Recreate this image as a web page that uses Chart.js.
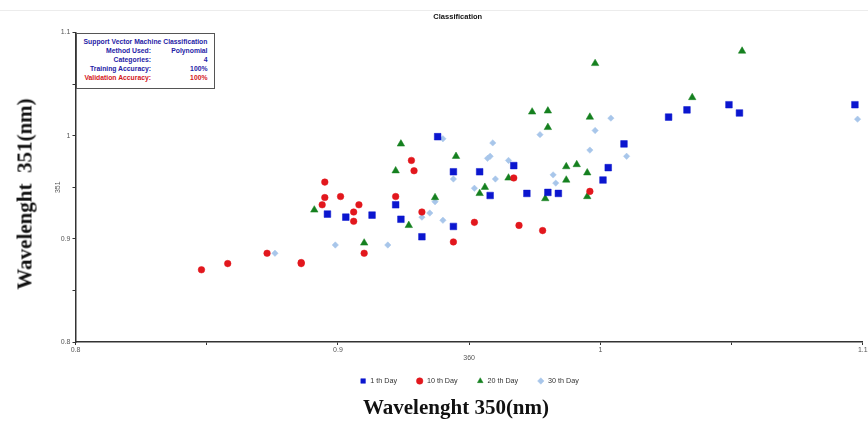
<!DOCTYPE html>
<html>
<head>
<meta charset="utf-8">
<script src="https://cdn.jsdelivr.net/npm/chart.js@4"></script>
<style>
  html, body { margin: 0; padding: 0; background: #fff; }
  #wrap { position: relative; width: 868px; height: 424px; overflow: hidden; background: #fff; }
  #c { position: absolute; left: 0; top: 0; }
  .topline { position: absolute; left: 0; top: 10px; width: 868px; height: 1px; background: #ececec; }
  .big { position: absolute; font-family: "Liberation Serif", "Times New Roman", serif; font-weight: bold; font-size: 21px; color: #111; white-space: pre; line-height: 1; }
  #ytitle { left: 25px; top: 194px; transform: translate(-50%, -50%) rotate(-90deg); }
  #xtitle { left: 456px; top: 407px; transform: translate(-50%, -50%); }
  #info { position: absolute; left: 76px; top: 33px; width: 137px; height: 54px; border: 1px solid #555; background: #fff;
          font-family: Arial, "Liberation Sans", sans-serif; font-weight: bold; font-size: 6.8px; color: #1f22a6; }
  #info .ln { position: absolute; white-space: nowrap; line-height: 1; }
  #info .red { color: #d4161c; }
</style>
</head>
<body>
<div id="wrap">
  <div class="topline"></div>
  <canvas id="c" width="868" height="424"></canvas>
  <div id="info"></div>
  <div id="ytitle" class="big">Wavelenght  351(nm)</div>
  <div id="xtitle" class="big">Wavelenght 350(nm)</div>
</div>
<script>
// ---- data ----
const seriesNames = ['1 th Day', '10 th Day', '20 th Day', '30 th Day'];

const day1X  = [0.896,0.903,0.913,0.922,0.924,0.932,0.938,0.944,0.954,0.967,0.958,0.972,0.980,0.984,1.009,1.003,1.001,0.944,1.026,1.033,1.049,1.053,1.097];
const day1Y  = [0.924,0.921,0.923,0.933,0.919,0.902,0.999,0.965,0.965,0.971,0.942,0.944,0.945,0.944,0.992,0.969,0.957,0.912,1.018,1.025,1.030,1.022,1.030];

const day10X = [0.848,0.858,0.873,0.886,0.886,0.895,0.895,0.894,0.901,0.908,0.906,0.906,0.910,0.928,0.929,0.922,0.932,0.967,0.952,0.969,0.978,0.944,0.996];
const day10Y = [0.870,0.876,0.886,0.877,0.876,0.955,0.940,0.933,0.941,0.933,0.926,0.917,0.886,0.976,0.966,0.941,0.926,0.959,0.916,0.913,0.908,0.897,0.946];

const day20X = [0.924,0.922,0.891,0.910,0.927,0.937,0.974,0.980,0.980,0.996,0.945,0.965,0.956,0.954,0.979,0.987,0.991,0.995,0.987,0.995,1.054,1.035,0.998];
const day20Y = [0.992,0.966,0.928,0.896,0.913,0.940,1.023,1.024,1.008,1.018,0.980,0.959,0.950,0.944,0.939,0.970,0.972,0.964,0.957,0.941,1.082,1.037,1.070];

const day30X = [0.876,0.899,0.919,0.932,0.935,0.937,0.940,0.959,0.957,0.958,0.965,0.944,0.960,0.952,0.940,0.977,0.998,1.004,0.996,0.982,0.983,1.010,1.098];
const day30Y = [0.886,0.894,0.894,0.921,0.925,0.936,0.997,0.993,0.978,0.980,0.976,0.958,0.958,0.949,0.918,1.001,1.005,1.017,0.986,0.962,0.954,0.980,1.016];

const axisMin = 0.8, axisMax = 1.1, axisStep = 0.05;
const labeledTicks = [0.8, 0.9, 1.0, 1.1];

const chartTitle = 'Classification';
const xAxisTitle = '360';
const yAxisTitle = '351';

const infoTitle = 'Support Vector Machine Classification';
const infoLabels = ['Method Used:', 'Categories:', 'Training Accuracy:', 'Validation Accuracy:'];
const infoValues = ['Polynomial', '4', '100%', '100%'];

// ---- info box ----
(function () {
  const box = document.getElementById('info');
  const rowsY = [8.7, 17.7, 26.3, 35, 44];
  let t = document.createElement('div');
  t.className = 'ln'; t.textContent = infoTitle;
  t.style.left = '0px'; t.style.width = '137px'; t.style.textAlign = 'center';
  t.style.top = (rowsY[0] - 3.4) + 'px';
  box.appendChild(t);
  infoLabels.forEach((lab, i) => {
    const red = i === 3 ? ' red' : '';
    const a = document.createElement('div');
    a.className = 'ln' + red; a.textContent = lab;
    a.style.right = (137 - 74) + 'px'; a.style.top = (rowsY[i + 1] - 3.4) + 'px';
    box.appendChild(a);
    const b = document.createElement('div');
    b.className = 'ln' + red; b.textContent = infoValues[i];
    b.style.right = (137 - 130.5) + 'px'; b.style.top = (rowsY[i + 1] - 3.4) + 'px';
    box.appendChild(b);
  });
})();

// ---- chart ----
const zip = (xs, ys) => xs.map((x, i) => ({ x: x, y: ys[i] }));

const styles = [
  { pointStyle: 'rect',     radius: 4.7, color: '#0b16cf' },
  { pointStyle: 'circle',   radius: 3.3, color: '#e2171d' },
  { pointStyle: 'triangle', radius: 4.3, color: '#15801f' },
  { pointStyle: 'rectRot',  radius: 3.2, color: '#a8c6ea' }
];
const xsAll = [day1X, day10X, day20X, day30X];
const ysAll = [day1Y, day10Y, day20Y, day30Y];

const datasets = seriesNames.map((name, i) => ({
  label: name,
  data: zip(xsAll[i], ysAll[i]),
  pointStyle: styles[i].pointStyle,
  pointRadius: styles[i].radius,
  pointHoverRadius: styles[i].radius,
  backgroundColor: styles[i].color,
  borderColor: styles[i].color,
  pointBorderWidth: 0.5,
  borderWidth: 0.5
}));

function tickLabel(v) {
  const r = Math.round(v * 100) / 100;
  const hit = labeledTicks.some(t => Math.abs(t - r) < 1e-6);
  if (!hit) return '';
  return String(r);
}

const tickFont = { family: 'Arial, "Liberation Sans", sans-serif', size: 7 };

new Chart(document.getElementById('c'), {
  type: 'scatter',
  data: { datasets: datasets },
  options: {
    responsive: false,
    animation: false,
    events: [],
    layout: { padding: { left: 49.5, right: 2, top: 0, bottom: 29.4 } },
    plugins: {
      tooltip: { enabled: false },
      title: {
        display: true, text: chartTitle, color: '#111',
        font: { family: 'Arial, "Liberation Sans", sans-serif', size: 7.5, weight: 'bold' },
        padding: { top: 12.3, bottom: 11.2 }
      },
      legend: {
        position: 'bottom', fullSize: false,
        labels: {
          usePointStyle: true, boxHeight: 4.6, padding: 19, color: '#333',
          font: { family: 'Arial, "Liberation Sans", sans-serif', size: 7.2 }
        }
      }
    },
    scales: {
      x: {
        type: 'linear', min: axisMin, max: axisMax,
        ticks: { stepSize: axisStep, autoSkip: false, maxRotation: 0, padding: 1, color: '#555', font: tickFont, callback: tickLabel },
        grid: { drawOnChartArea: false, drawTicks: true, tickLength: 3, color: '#333', lineWidth: 1 },
        border: { display: true, color: '#333', width: 1.5 },
        title: { display: true, text: xAxisTitle, color: '#555', font: tickFont, padding: { top: 0, bottom: -3.8 } },
        afterFit(s) { s.height = 16.4; s.paddingLeft = 0; s.paddingRight = 0; }
      },
      y: {
        type: 'linear', min: axisMin, max: axisMax,
        ticks: { stepSize: axisStep, autoSkip: false, padding: 2, color: '#555', font: tickFont, callback: tickLabel },
        grid: { drawOnChartArea: false, drawTicks: true, tickLength: 3, color: '#333', lineWidth: 1 },
        border: { display: true, color: '#333', width: 1.5 },
        title: { display: true, text: yAxisTitle, color: '#555', font: tickFont, padding: { top: 4, bottom: 4 } },
        afterFit(s) { s.width = 26; s.paddingTop = 0; s.paddingBottom = 0; }
      }
    }
  }
});
</script>
</body>
</html>
